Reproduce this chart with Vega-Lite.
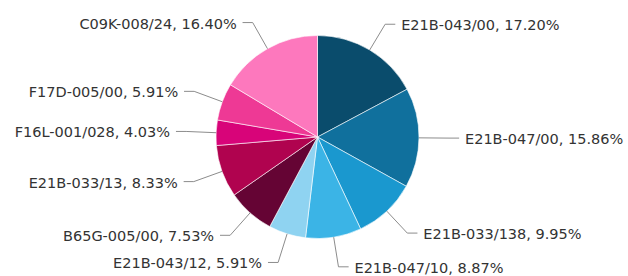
{
  "$schema": "https://vega.github.io/schema/vega-lite/v6.json",
  "width": 628,
  "height": 276,
  "autosize": {"type": "fit", "contains": "padding"},
  "padding": 0,
  "background": "#ffffff",
  "view": {"stroke": null},
  "config": {"font": "DejaVu Sans"},
  "data": {
    "values": [
      {"code": "E21B-043/00", "pct": 17.20},
      {"code": "E21B-047/00", "pct": 15.86},
      {"code": "E21B-033/138", "pct": 9.95},
      {"code": "E21B-047/10", "pct": 8.87},
      {"code": "E21B-043/12", "pct": 5.91},
      {"code": "B65G-005/00", "pct": 7.53},
      {"code": "E21B-033/13", "pct": 8.33},
      {"code": "F16L-001/028", "pct": 4.03},
      {"code": "F17D-005/00", "pct": 5.91},
      {"code": "C09K-008/24", "pct": 16.40}
    ]
  },
  "transform": [
    {"window": [{"op": "sum", "field": "pct", "as": "cum1"}], "frame": [null, 0]},
    {"joinaggregate": [{"op": "sum", "field": "pct", "as": "total"}]},
    {"calculate": "(datum.cum1 - datum.pct) / datum.total", "as": "f0"},
    {"calculate": "datum.cum1 / datum.total", "as": "f1"},
    {"calculate": "(datum.cum1 - datum.pct / 2) / datum.total * 2 * PI", "as": "mid"},
    {"calculate": "sin(datum.mid)", "as": "ex"},
    {"calculate": "cos(datum.mid)", "as": "ey"},
    {"calculate": "1.2956 * sin(datum.mid)", "as": "cx"},
    {"calculate": "1.2956 * cos(datum.mid)", "as": "cy"},
    {"calculate": "sin(datum.mid) >= 0 ? 1 : -1", "as": "side"},
    {"calculate": "datum.cx + datum.side * 0.1", "as": "hx"},
    {"calculate": "datum.code + ', ' + format(datum.pct, '.2f') + '%'", "as": "label"}
  ],
  "encoding": {
    "x": {"type": "quantitative", "scale": {"domain": [-3.128, 3.059], "nice": false, "zero": false}, "axis": null},
    "y": {"type": "quantitative", "scale": {"domain": [-1.3695, 1.3498], "nice": false, "zero": false}, "axis": null}
  },
  "layer": [
    {
      "mark": {"type": "arc", "radius": 101.5, "stroke": "#ffffff", "strokeWidth": 0.6},
      "encoding": {
        "x": {"datum": 0, "type": "quantitative"},
        "y": {"datum": 0, "type": "quantitative"},
        "theta": {"field": "f0", "type": "quantitative", "scale": {"domain": [0, 1], "range": [0, 6.283185307179586]}},
        "theta2": {"field": "f1"},
        "color": {
          "field": "code",
          "type": "nominal",
          "legend": null,
          "scale": {
            "domain": ["E21B-043/00", "E21B-047/00", "E21B-033/138", "E21B-047/10", "E21B-043/12", "B65G-005/00", "E21B-033/13", "F16L-001/028", "F17D-005/00", "C09K-008/24"],
            "range": ["#0a4c6c", "#10709d", "#1a98cf", "#3bb4e6", "#8fd3f1", "#650434", "#b0034f", "#d80479", "#ee3995", "#fd78bd"]
          }
        }
      }
    },
    {
      "mark": {"type": "rule", "color": "#8c8c8c", "strokeWidth": 1},
      "encoding": {
        "x": {"field": "ex", "type": "quantitative"},
        "y": {"field": "ey", "type": "quantitative"},
        "x2": {"field": "cx"},
        "y2": {"field": "cy"}
      }
    },
    {
      "mark": {"type": "rule", "color": "#8c8c8c", "strokeWidth": 1},
      "encoding": {
        "x": {"field": "cx", "type": "quantitative"},
        "y": {"field": "cy", "type": "quantitative"},
        "x2": {"field": "hx"},
        "y2": {"field": "cy"}
      }
    },
    {
      "transform": [{"filter": "datum.side > 0"}],
      "mark": {"type": "text", "align": "left", "baseline": "middle", "dx": 16, "dy": 2, "fontSize": 14.5, "color": "#333333"},
      "encoding": {
        "x": {"field": "cx", "type": "quantitative"},
        "y": {"field": "cy", "type": "quantitative"},
        "text": {"field": "label", "type": "nominal"}
      }
    },
    {
      "transform": [{"filter": "datum.side < 0"}],
      "mark": {"type": "text", "align": "right", "baseline": "middle", "dx": -16, "dy": 2, "fontSize": 14.5, "color": "#333333"},
      "encoding": {
        "x": {"field": "cx", "type": "quantitative"},
        "y": {"field": "cy", "type": "quantitative"},
        "text": {"field": "label", "type": "nominal"}
      }
    }
  ]
}
